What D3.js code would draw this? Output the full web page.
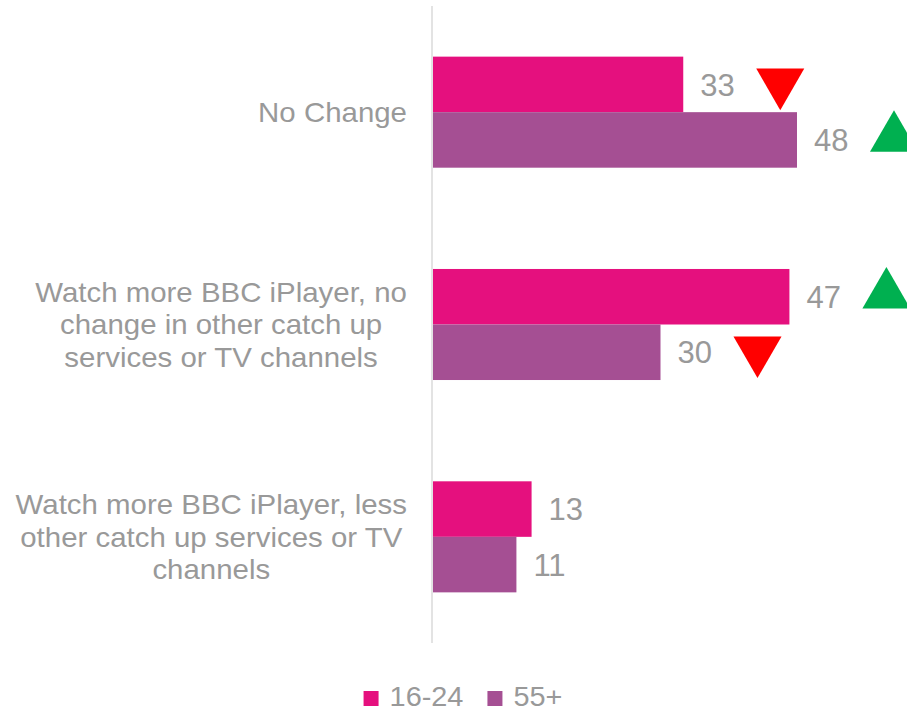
<!DOCTYPE html>
<html>
<head>
<meta charset="utf-8">
<script src="https://cdn.jsdelivr.net/npm/d3@7"></script>
<style>
  body { margin: 0; background: #fff; }
  text { font-family: Arial, "Liberation Sans", sans-serif; fill: #999999; }
</style>
</head>
<body>
<script>
// chart data
var categories = [
  ["No Change"],
  ["Watch more BBC iPlayer, no", "change in other catch up", "services or TV channels"],
  ["Watch more BBC iPlayer, less", "other catch up services or TV", "channels"]
];
var seriesNames = ["16-24", "55+"];
var values1624 = [33, 47, 13];
var values55 = [48, 30, 11];
// significance markers: "down", "up" or null
var marks1624 = ["down", "up", null];
var marks55 = ["up", "down", null];

var colors = ["#e5107e", "#a54f93"];

var svgWidth = 907;
var svgHeight = 711;

var svg = d3.select("body")
  .append("svg")
  .attr("width", svgWidth)
  .attr("height", svgHeight);

var x0 = 433;
var xScale = d3.scaleLinear().domain([0, 48]).range([x0, 797]);

var yScale = d3.scaleBand()
  .domain(d3.range(categories.length))
  .range([6, 643])
  .paddingInner(0.477)
  .paddingOuter(0.2385);

var ySub = d3.scaleBand()
  .domain([0, 1])
  .range([0, yScale.bandwidth()]);

// vertical axis line
svg.append("line")
  .attr("x1", 432).attr("x2", 432)
  .attr("y1", 6).attr("y2", 643)
  .attr("stroke", "#e3e3e3")
  .attr("stroke-width", 2);

var rows = [];
categories.forEach(function (c, i) {
  rows.push({ cat: i, s: 0, v: values1624[i], m: marks1624[i] });
  rows.push({ cat: i, s: 1, v: values55[i], m: marks55[i] });
});

svg.selectAll("rect.bar")
  .data(rows)
  .enter()
  .append("rect")
  .attr("class", "bar")
  .attr("x", x0)
  .attr("y", function (d) { return yScale(d.cat) + ySub(d.s); })
  .attr("width", function (d) { return xScale(d.v) - x0; })
  .attr("height", ySub.bandwidth())
  .attr("fill", function (d) { return colors[d.s]; });

// value labels
svg.selectAll("text.val")
  .data(rows)
  .enter()
  .append("text")
  .attr("class", "val")
  .attr("x", function (d) { return xScale(d.v) + 17; })
  .attr("y", function (d) { return yScale(d.cat) + ySub(d.s) + ySub.bandwidth() / 2; })
  .attr("dy", "0.36em")
  .attr("font-size", "31px")
  .text(function (d) { return d.v; });

// up / down triangles
var tri = d3.symbol().type(d3.symbolTriangle).size(1000);
svg.selectAll("path.mark")
  .data(rows.filter(function (d) { return d.m; }))
  .enter()
  .append("path")
  .attr("class", "mark")
  .attr("d", tri)
  .attr("fill", function (d) { return d.m === "up" ? "#00b050" : "#ff0000"; })
  .attr("transform", function (d) {
    var cx = xScale(d.v) + 97;
    var cy = yScale(d.cat) + ySub(d.s) + ySub.bandwidth() / 2 - 2;
    return "translate(" + cx + "," + cy + ")" + (d.m === "down" ? " rotate(180)" : "");
  });

// category labels: lines centred in a block whose right edge sits near the axis
var lineH = 32.5;
var stretch = 1.09;
categories.forEach(function (lines, i) {
  var g = svg.append("g");
  var texts = g.selectAll("text")
    .data(lines)
    .enter()
    .append("text")
    .attr("font-size", "27px")
    .attr("text-anchor", "middle")
    .attr("dy", "0.36em")
    .text(function (d) { return d; });
  var maxW = stretch * d3.max(texts.nodes(), function (n) { return n.getComputedTextLength(); });
  var cx = 407 - maxW / 2;
  var cy = yScale(i) + yScale.bandwidth() / 2;
  texts.attr("transform", function (d, j) {
    var ty = cy + (j - (lines.length - 1) / 2) * lineH;
    return "translate(" + cx + "," + ty + ") scale(" + stretch + ",1)";
  });
});

// legend
var legend = svg.append("g");
var lx = 0;
var lstretch = 1.07;
seriesNames.forEach(function (name, i) {
  legend.append("rect")
    .attr("x", lx).attr("y", 691)
    .attr("width", 15).attr("height", 15)
    .attr("fill", colors[i]);
  var t = legend.append("text")
    .attr("font-size", "27px")
    .attr("transform", "translate(" + (lx + 26) + ",706) scale(" + lstretch + ",1)")
    .text(name);
  lx += 26 + lstretch * t.node().getComputedTextLength() + 24;
});
var lw = lx - 24;
legend.attr("transform", "translate(" + (463 - lw / 2) + ",0)");
</script>
</body>
</html>
